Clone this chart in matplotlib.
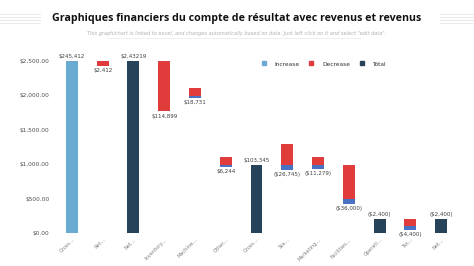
import matplotlib
matplotlib.use("Agg")
import matplotlib.pyplot as plt
from matplotlib.lines import Line2D

categories = ["Gross...", "Ret...", "Net...", "Inventory...", "Machine...", "Other...",
              "Gross...", "Sta...", "Marketing...", "Facilities...", "Operati...", "Tax...", "Net..."]
kinds = ["increase", "decrease", "total", "decrease", "decrease", "decrease",
         "total", "decrease", "decrease", "decrease", "total", "decrease", "total"]
top_values = [2500, 2500, 2500, 2500, 2108, 1105, 988, 1294, 1105, 988, 203, 203, 203]
bottom_values = [0, 2430, 0, 1770, 1962, 959, 0, 916, 930, 421, 0, 44, 0]
blue_part = [0, 0, 0, 0, 30, 30, 0, 73, 58, 73, 0, 58, 0]
labels = ["$245,412", "$2,412", "$2,43219", "$114,899", "$18,731", "$6,244", "$103,345",
          "($26,745)", "($11,279)", "($36,000)", "($2,400)", "($4,400)", "($2,400)"]
yticks = [0, 500, 1000, 1500, 2000, 2500]
ytick_labels = ["$0.00", "$500.00", "$1,000.00", "$1,500.00", "$2,000.00", "$2,500.00"]

C_INC = "#6aabd2"
C_DEC = "#e03c3c"
C_TOT = "#27435a"
C_BLUE = "#4a72c4"

W, H = 474, 266
fig = plt.figure(figsize=(W / 100, H / 100), dpi=100)
fig.patch.set_facecolor("white")

ax_left, ax_right = 53.5, 459.5
ax_bottom = 33
ax_top = 33 + 2700 * 172 / 2500
ax = fig.add_axes([ax_left / W, ax_bottom / H, (ax_right - ax_left) / W, (ax_top - ax_bottom) / H])
ax.set_xlim(-0.6, 12.6)
ax.set_ylim(0, 2700)

x = list(range(len(categories)))
bw = 0.39
for i in x:
    k = kinds[i]
    top, bot = top_values[i], bottom_values[i]
    if k == "increase":
        ax.bar(i, top - bot, bottom=bot, width=bw, color=C_INC)
        ax.text(i, top + 25, labels[i], ha="center", va="bottom", fontsize=4, color="#404040")
    elif k == "total":
        ax.bar(i, top - bot, bottom=bot, width=bw, color=C_TOT)
        ax.text(i, top + 25, labels[i], ha="center", va="bottom", fontsize=4, color="#404040")
    else:
        bp = blue_part[i]
        ax.bar(i, top - bot - bp, bottom=bot + bp, width=bw, color=C_DEC)
        if bp > 0:
            ax.bar(i, bp, bottom=bot, width=bw, color=C_BLUE)
        ax.text(i, bot - 35, labels[i], ha="center", va="top", fontsize=4, color="#404040")

ax.set_xticks(x)
ax.set_xticklabels(categories, rotation=45, ha="right", rotation_mode="anchor",
                   fontsize=3.6, color="#808080")
ax.set_yticks(yticks)
ax.set_yticklabels(ytick_labels, fontsize=4.2, color="#505050")
ax.tick_params(axis="both", length=0, pad=3)
for s in ax.spines.values():
    s.set_visible(False)
ax.axhline(0, color="#eeeeee", lw=0.5, zorder=0)

handles = [Line2D([], [], marker="s", ls="", color=C_INC, markersize=3.5),
           Line2D([], [], marker="s", ls="", color=C_DEC, markersize=3.5),
           Line2D([], [], marker="s", ls="", color=C_TOT, markersize=3.5)]
fig.legend(handles, ["Increase", "Decrease", "Total"], ncol=3, frameon=False,
           fontsize=4.2, loc="center", bbox_to_anchor=(322 / W, 1 - 64 / H),
           handletextpad=0.8, columnspacing=1.0, labelcolor="#303030")

fig.text(0.5, 1 - 18 / H, "Graphiques financiers du compte de résultat avec revenus et revenus",
         ha="center", va="center", fontsize=7.7, fontweight="bold", color="#111111",
         family="Open Sans")
fig.text(0.5, 1 - 33 / H,
         "This graph/chart is linked to excel, and changes automatically based on data. Just left click on it and select \"edit data\".",
         ha="center", va="center", fontsize=3.6, style="italic", color="#b0b0b0")
# decorative lines
for yy in (14, 17, 20, 23):
    fig.add_artist(Line2D([0, 40 / W], [1 - yy / H, 1 - yy / H], color="#e6e6e6", lw=0.6))
    fig.add_artist(Line2D([440 / W, 1], [1 - yy / H, 1 - yy / H], color="#e6e6e6", lw=0.6))
fig.add_artist(Line2D([108 / W, 360 / W], [1 - 38 / H, 1 - 38 / H], color="#e8e8e8", lw=0.5))

fig.savefig("out.png", dpi=100, facecolor="white")
